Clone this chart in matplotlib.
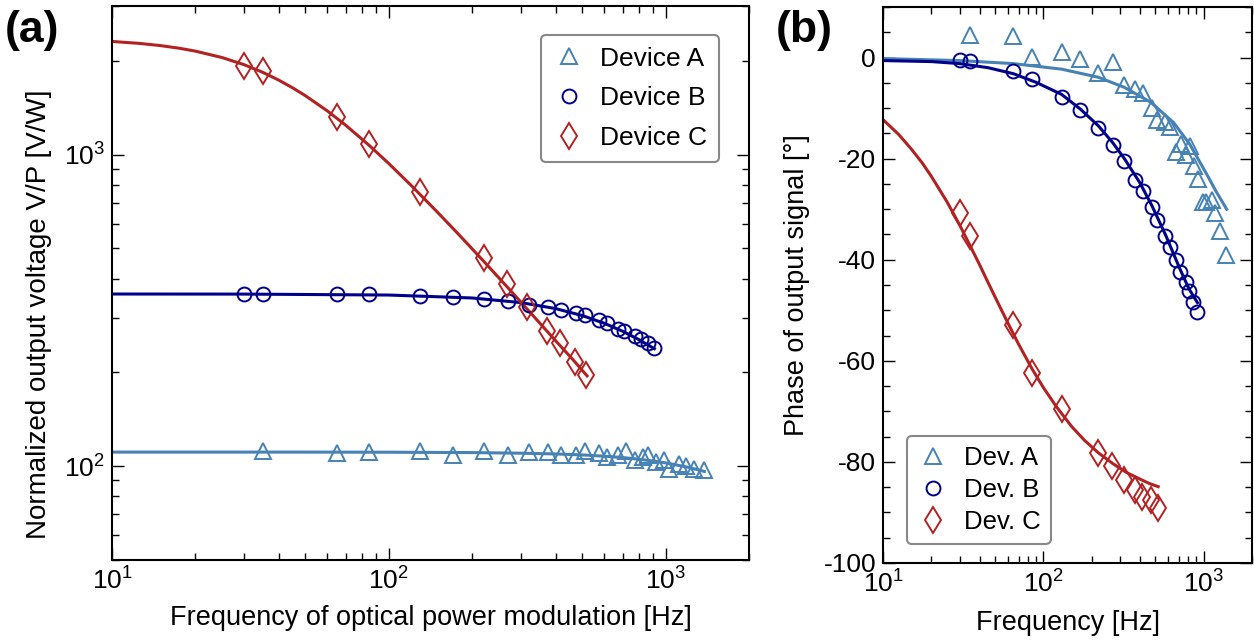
import matplotlib
matplotlib.use("Agg")
import matplotlib.pyplot as plt
from matplotlib.ticker import MultipleLocator

plt.rcParams['font.family'] = ['Liberation Sans', 'DejaVu Sans']
plt.rcParams['mathtext.fontset'] = 'custom'
plt.rcParams['mathtext.rm'] = 'Liberation Sans'
plt.rcParams['mathtext.it'] = 'Liberation Sans'
plt.rcParams['mathtext.bf'] = 'Liberation Sans:bold'
plt.rcParams['axes.unicode_minus'] = False

# measured points
freq_A = [35, 65, 85, 130, 170, 220, 270, 320, 375, 420, 475, 510, 575, 615,
          670, 720, 775, 825, 865, 920, 985, 1030, 1120, 1180, 1265, 1380]
volt_A = [112, 110, 111, 112, 109, 112, 109, 111, 111, 109, 109, 112, 110, 107,
          109, 112, 105, 107, 109, 103, 105, 98, 102, 100, 98, 97]
phase_A = [4.5, 4.2, 0.2, 1.1, -0.2, -3.0, -0.8, -5.4, -6.3, -7.0, -9.9, -12.4, -12.7, -13.8,
           -18.6, -17.1, -19.3, -17.6, -21.4, -24.0, -28.5, -28.5, -28.1, -30.8, -34.3, -39.1]

freq_B = [30, 35, 65, 85, 130, 170, 220, 270, 320, 375, 420, 475, 512, 575,
          615, 670, 710, 775, 812, 862, 910]
volt_B = [357, 357, 357, 356, 352, 350, 344, 339, 329, 325, 318, 311, 306, 295,
          288, 276, 272, 262, 256, 249, 239]
phase_B = [-0.5, -0.7, -2.7, -4.3, -7.8, -10.4, -14.0, -17.3, -20.4, -24.2, -26.5, -29.5, -32.1, -35.4,
           -37.4, -40.1, -42.4, -44.4, -46.1, -48.3, -50.3]

freq_C = [30, 35, 65, 85, 130, 220, 268, 316, 373, 414, 472, 515]
volt_C = [1920, 1850, 1316, 1085, 756, 467, 385, 324, 272, 248, 216, 196]
phase_C = [-30.8, -35.3, -53.0, -62.4, -69.6, -78.2, -80.9, -83.6, -85.6, -86.9, -87.5, -89.2]

# fitted curves
fitf_A = [10, 20, 50, 100, 200, 300, 400, 500, 600, 700, 800, 900, 1000, 1200, 1380]
fitv_A = [111.0, 111.0, 111.0, 110.9, 110.6, 110.1, 109.5, 108.7, 107.7, 106.6, 105.3,
          103.9, 102.5, 99.3, 96.2]
fitpf_A = [10, 30, 65, 130, 220, 320, 470, 650, 820, 1040, 1200, 1390]
fitp_A = [-0.2, -0.6, -1.2, -2.3, -3.9, -5.9, -8.9, -12.9, -17.2, -23.0, -26.6, -30.0]

fitf_B = [10, 30, 100, 200, 300, 400, 500, 600, 700, 800, 910]
fitv_B = [357, 356.8, 354.3, 346.7, 335.1, 320.6, 304.4, 287.6, 271.0, 254.9, 238.3]
fitpf_B = [10, 20, 30, 45, 65, 90, 130, 170, 220, 270, 320, 400, 475, 580, 710, 810, 914]
fitp_B = [-0.6, -0.8, -1.2, -2.0, -3.2, -4.9, -7.3, -10.2, -13.5, -16.8, -20.0, -24.8,
          -29.3, -35.2, -41.8, -45.8, -48.5]

fitf_C = [10, 12.5, 15, 17.5, 20, 25, 30, 35, 40, 45, 50, 60, 70, 85, 100, 120, 150, 180,
          220, 270, 330, 400, 460, 520]
fitv_C = [2308, 2276, 2238, 2195, 2149, 2049, 1944, 1838, 1735, 1637, 1545, 1381, 1241,
          1070, 936, 799, 653, 551, 455, 373, 306, 253, 221, 195]
fitp_C = [-12.3, -15.2, -18.1, -20.8, -23.5, -28.5, -33.1, -37.3, -41.0, -44.4, -47.4,
          -52.5, -56.7, -61.6, -65.3, -69.0, -73.0, -75.7, -78.2, -80.3, -82.1, -83.4,
          -84.3, -84.9]

colA = '#4682B4'
colB = '#00008B'
colC = '#B22222'
mk = dict(mfc='none', mew=1.4, ls='none')

fig = plt.figure(figsize=(12.54, 6.42), dpi=100)
ax1 = fig.add_axes([0.0893, 0.1277, 0.5080, 0.8630])
ax2 = fig.add_axes([0.7042, 0.1231, 0.2942, 0.8660])

# (a) amplitude
ax1.plot(fitf_A, fitv_A, color=colA, lw=2.2)
ax1.plot(fitf_B, fitv_B, color=colB, lw=2.2)
ax1.plot(fitf_C, fitv_C, color=colC, lw=2.2)
ax1.plot(freq_A, volt_A, marker='^', ms=11.5, mec=colA, label='Device A', **mk)
ax1.plot(freq_B, volt_B, marker='o', ms=10, mec=colB, label='Device B', **mk)
ax1.plot(freq_C, volt_C, marker='d', ms=13, mec=colC, label='Device C', **mk)
ax1.set_xscale('log')
ax1.set_yscale('log')
ax1.set_xlim(10, 2000)
ax1.set_ylim(50, 3000)
ax1.set_xlabel('Frequency of optical power modulation [Hz]', fontsize=19.5, labelpad=8)
ax1.set_ylabel('Normalized output voltage V/P [V/W]', fontsize=20)
ax1.yaxis.set_label_coords(-0.094, 0.444)
leg1 = ax1.legend(loc='upper right', bbox_to_anchor=(0.953, 0.948), borderaxespad=0,
                  fontsize=19, frameon=True, fancybox=True, edgecolor='#888888',
                  framealpha=1, handletextpad=0.6, labelspacing=0.6, borderpad=0.45,
                  handlelength=1.2)
leg1.get_frame().set_linewidth(1.5)

# (b) phase
ax2.plot(fitpf_A, fitp_A, color=colA, lw=2.2)
ax2.plot(fitpf_B, fitp_B, color=colB, lw=2.2)
ax2.plot(fitf_C, fitp_C, color=colC, lw=2.2)
ax2.plot(freq_A, phase_A, marker='^', ms=11.5, mec=colA, label='Dev. A', **mk)
ax2.plot(freq_B, phase_B, marker='o', ms=10, mec=colB, label='Dev. B', **mk)
ax2.plot(freq_C, phase_C, marker='d', ms=13, mec=colC, label='Dev. C', **mk)
ax2.set_xscale('log')
ax2.set_xlim(10, 2000)
ax2.set_ylim(-100, 10)
ax2.yaxis.set_major_locator(MultipleLocator(20))
ax2.yaxis.set_minor_locator(MultipleLocator(5))
ax2.set_xlabel('Frequency [Hz]', fontsize=19.5, labelpad=9)
ax2.set_ylabel('Phase of output signal [°]', fontsize=19.5, labelpad=10)
leg2 = ax2.legend(loc='lower left', bbox_to_anchor=(0.065, 0.034), borderaxespad=0,
                  fontsize=18.5, frameon=True, fancybox=True, edgecolor='#888888',
                  framealpha=1, handletextpad=0.6, labelspacing=0.3, borderpad=0.4,
                  handlelength=1.2)
leg2.get_frame().set_linewidth(1.5)

for ax in (ax1, ax2):
    ax.tick_params(which='both', direction='in', top=True, right=True, labelsize=19)
    ax.tick_params(which='major', length=8.5, width=1.0, pad=5)
    ax.tick_params(which='minor', length=5, width=1.0)
    for s in ax.spines.values():
        s.set_linewidth(1.5)

fig.text(0.004, 0.985, '(a)', fontsize=32, fontweight='bold', va='top', ha='left')
fig.text(0.619, 0.985, '(b)', fontsize=32, fontweight='bold', va='top', ha='left')

fig.savefig('out.png', dpi=100)
